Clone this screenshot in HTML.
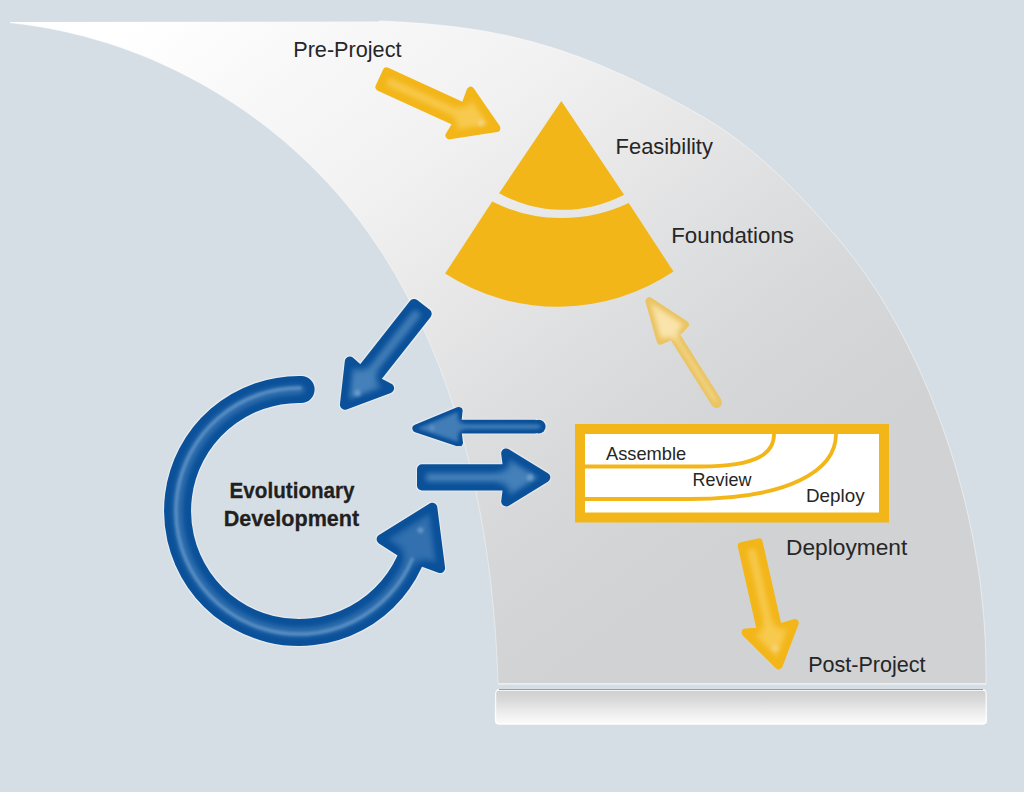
<!DOCTYPE html>
<html><head><meta charset="utf-8"><title>DSDM</title>
<style>html,body{margin:0;padding:0;background:#d6dee5;width:1024px;height:792px;overflow:hidden}</style>
</head><body>
<svg width="1024" height="792" viewBox="0 0 1024 792" style="display:block;font-family:'Liberation Sans',sans-serif">
<defs>
 <linearGradient id="mg" gradientUnits="userSpaceOnUse" x1="60" y1="80" x2="522" y2="696">
  <stop offset="0" stop-color="#ffffff"/>
  <stop offset="0.164" stop-color="#f8f8f8"/>
  <stop offset="0.345" stop-color="#f2f2f2"/>
  <stop offset="0.45" stop-color="#ececec"/>
  <stop offset="0.55" stop-color="#e6e6e7"/>
  <stop offset="0.686" stop-color="#dddedf"/>
  <stop offset="0.83" stop-color="#d6d7d8"/>
  <stop offset="1" stop-color="#d1d2d4"/>
 </linearGradient>
 <linearGradient id="bar" x1="0" y1="0" x2="0" y2="1">
  <stop offset="0" stop-color="#f4f4f4"/>
  <stop offset="0.06" stop-color="#d0d0d0"/>
  <stop offset="0.325" stop-color="#dadada"/>
  <stop offset="0.56" stop-color="#e8e8e8"/>
  <stop offset="0.79" stop-color="#f3f3f3"/>
  <stop offset="0.92" stop-color="#f8f8f8"/>
  <stop offset="1" stop-color="#fdfdfd"/>
 </linearGradient>
 <filter id="gy" x="-10%" y="-10%" width="120%" height="120%" color-interpolation-filters="sRGB">
  <feGaussianBlur in="SourceAlpha" stdDeviation="6" result="b"/>
  <feComponentTransfer in="b" result="m1"><feFuncA type="linear" slope="2.0" intercept="-1.0"/></feComponentTransfer>
  <feComponentTransfer in="m1" result="m"><feFuncA type="gamma" amplitude="1" exponent="6" offset="0"/></feComponentTransfer>
  <feFlood flood-color="#f8cf5c" flood-opacity="0.8"/>
  <feComposite in2="m" operator="in" result="hl"/>
  <feComposite in="hl" in2="SourceAlpha" operator="in" result="hl2"/>
  
  <feMerge><feMergeNode in="SourceGraphic"/><feMergeNode in="hl2"/></feMerge>
 </filter>

 <filter id="gb" x="-10%" y="-10%" width="120%" height="120%" color-interpolation-filters="sRGB">
  <feGaussianBlur in="SourceAlpha" stdDeviation="6" result="b"/>
  <feComponentTransfer in="b" result="m1"><feFuncA type="linear" slope="2.0" intercept="-1.0"/></feComponentTransfer>
  <feComponentTransfer in="m1" result="m"><feFuncA type="gamma" amplitude="1" exponent="6" offset="0"/></feComponentTransfer>
  <feFlood flood-color="#5a90c4" flood-opacity="0.75"/>
  <feComposite in2="m" operator="in" result="hl"/>
  <feComposite in="hl" in2="SourceAlpha" operator="in" result="hl2"/>
  <feMorphology in="SourceAlpha" operator="dilate" radius="0.8" result="dil"/>
  <feFlood flood-color="#ffffff" flood-opacity="0.4"/>
  <feComposite in2="dil" operator="in" result="halo"/>
  <feMerge><feMergeNode in="halo"/><feMergeNode in="SourceGraphic"/><feMergeNode in="hl2"/></feMerge>
 </filter>

 <filter id="gr" x="-10%" y="-10%" width="120%" height="120%" color-interpolation-filters="sRGB">
  <feGaussianBlur in="SourceAlpha" stdDeviation="6" result="b"/>
  <feComponentTransfer in="b" result="m1"><feFuncA type="linear" slope="2.0" intercept="-1.0"/></feComponentTransfer>
  <feComponentTransfer in="m1" result="m"><feFuncA type="gamma" amplitude="1" exponent="6" offset="0"/></feComponentTransfer>
  <feFlood flood-color="#5a90c4" flood-opacity="0.5"/>
  <feComposite in2="m" operator="in" result="hl"/>
  <feComposite in="hl" in2="SourceAlpha" operator="in" result="hl2"/>
  <feMorphology in="SourceAlpha" operator="dilate" radius="0.8" result="dil"/>
  <feFlood flood-color="#ffffff" flood-opacity="0.4"/>
  <feComposite in2="dil" operator="in" result="halo"/>
  <feMerge><feMergeNode in="halo"/><feMergeNode in="SourceGraphic"/><feMergeNode in="hl2"/></feMerge>
 </filter>

 <filter id="gb2" x="-10%" y="-10%" width="120%" height="120%" color-interpolation-filters="sRGB">
  <feGaussianBlur in="SourceAlpha" stdDeviation="3" result="b"/>
  <feComponentTransfer in="b" result="m1"><feFuncA type="linear" slope="2.0" intercept="-1.0"/></feComponentTransfer>
  <feComponentTransfer in="m1" result="m"><feFuncA type="gamma" amplitude="1" exponent="4" offset="0"/></feComponentTransfer>
  <feFlood flood-color="#5a90c4" flood-opacity="0.7"/>
  <feComposite in2="m" operator="in" result="hl"/>
  <feComposite in="hl" in2="SourceAlpha" operator="in" result="hl2"/>
  <feMorphology in="SourceAlpha" operator="dilate" radius="0.8" result="dil"/>
  <feFlood flood-color="#ffffff" flood-opacity="0.4"/>
  <feComposite in2="dil" operator="in" result="halo"/>
  <feMerge><feMergeNode in="halo"/><feMergeNode in="SourceGraphic"/><feMergeNode in="hl2"/></feMerge>
 </filter>

 <filter id="gp" x="-10%" y="-10%" width="120%" height="120%" color-interpolation-filters="sRGB">
  <feGaussianBlur in="SourceAlpha" stdDeviation="4" result="b"/>
  <feComponentTransfer in="b" result="m1"><feFuncA type="linear" slope="2.0" intercept="-1.0"/></feComponentTransfer>
  <feComponentTransfer in="m1" result="m"><feFuncA type="gamma" amplitude="1" exponent="2.5" offset="0"/></feComponentTransfer>
  <feFlood flood-color="#fae6b0" flood-opacity="0.95"/>
  <feComposite in2="m" operator="in" result="hl"/>
  <feComposite in="hl" in2="SourceAlpha" operator="in" result="hl2"/>
  
  <feMerge><feMergeNode in="SourceGraphic"/><feMergeNode in="hl2"/></feMerge>
 </filter>

 <filter id="sb2" filterUnits="userSpaceOnUse" x="0" y="0" width="1024" height="792"><feGaussianBlur stdDeviation="1.2"/></filter>
 <filter id="sb" filterUnits="userSpaceOnUse" x="0" y="0" width="1024" height="792"><feGaussianBlur stdDeviation="1.6"/></filter>
</defs>
<rect width="1024" height="792" fill="#d6dee5"/>
<path d="M10,22 L378.9,21.6 L380.0,20.9 L386.3,21.2 L392.6,21.5 L398.9,21.9 L405.2,22.3 L411.4,22.7 L417.7,23.1 L424.0,23.6 L430.3,24.2 L436.6,24.8 L442.9,25.4 L449.1,26.1 L455.4,26.8 L461.6,27.7 L467.9,28.5 L474.1,29.5 L480.3,30.5 L486.6,31.5 L492.7,32.7 L498.9,33.9 L505.1,35.1 L511.2,36.5 L517.4,38.0 L523.5,39.5 L529.6,41.1 L535.6,42.7 L541.7,44.5 L547.7,46.3 L553.7,48.1 L559.7,50.1 L565.7,52.1 L571.6,54.2 L577.6,56.3 L583.5,58.5 L589.4,60.8 L595.2,63.1 L601.1,65.5 L606.9,68.0 L612.7,70.5 L618.4,73.0 L624.2,75.6 L629.9,78.3 L635.6,81.0 L641.2,83.8 L646.8,86.6 L652.5,89.4 L658.1,92.3 L663.6,95.2 L669.2,98.2 L674.8,101.2 L680.3,104.1 L685.9,107.1 L691.4,110.2 L696.9,113.3 L702.4,116.4 L707.8,119.7 L713.1,123.0 L718.4,126.4 L723.7,129.9 L728.8,133.5 L733.9,137.1 L739.0,140.9 L744.0,144.8 L748.9,148.7 L753.8,152.7 L758.6,156.8 L763.4,160.9 L768.1,165.1 L772.7,169.3 L777.3,173.7 L781.9,178.0 L786.4,182.4 L790.8,186.9 L795.2,191.4 L799.6,195.9 L804.0,200.5 L808.3,205.1 L812.5,209.7 L816.8,214.4 L821.0,219.1 L825.2,223.8 L829.3,228.5 L833.4,233.3 L837.5,238.0 L841.5,242.9 L845.5,247.7 L849.4,252.7 L853.2,257.6 L857.0,262.6 L860.7,267.7 L864.4,272.8 L868.0,278.0 L871.5,283.2 L875.0,288.4 L878.4,293.7 L881.7,299.1 L885.0,304.4 L888.2,309.8 L891.4,315.3 L894.5,320.8 L897.6,326.3 L900.6,331.9 L903.5,337.4 L906.4,343.1 L909.3,348.7 L912.1,354.4 L914.8,360.1 L917.5,365.8 L920.1,371.5 L922.6,377.3 L925.2,383.1 L927.6,388.9 L930.1,394.7 L932.4,400.6 L934.7,406.4 L937.0,412.3 L939.2,418.2 L941.4,424.1 L943.5,430.0 L945.6,436.0 L947.6,441.9 L949.6,447.9 L951.5,453.9 L953.4,459.9 L955.2,465.9 L957.0,472.0 L958.7,478.0 L960.3,484.1 L962.0,490.2 L963.5,496.3 L965.1,502.4 L966.5,508.5 L968.0,514.7 L969.3,520.8 L970.6,527.0 L971.9,533.1 L973.1,539.3 L974.3,545.5 L975.4,551.7 L976.4,558.0 L977.4,564.2 L978.4,570.4 L979.3,576.7 L980.1,582.9 L980.9,589.2 L981.6,595.4 L982.3,601.7 L982.9,608.0 L983.5,614.2 L984.0,620.5 L984.4,626.8 L984.8,633.1 L985.2,639.4 L985.4,645.7 L985.7,652.0 L985.8,658.3 L985.9,664.6 L986.0,670.9 L986.0,677.2 L985.9,683.5 L986,683.5 L498,683.5 L498.1,683.1 L497.9,676.7 L497.6,670.3 L497.3,663.9 L497.0,657.5 L496.6,651.1 L496.2,644.6 L495.8,638.2 L495.4,631.7 L494.9,625.3 L494.3,618.8 L493.8,612.4 L493.2,605.9 L492.5,599.5 L491.8,593.0 L491.1,586.5 L490.4,580.1 L489.6,573.6 L488.8,567.2 L487.9,560.7 L487.0,554.3 L486.0,547.8 L485.0,541.4 L484.0,534.9 L482.9,528.5 L481.8,522.1 L480.7,515.6 L479.5,509.2 L478.2,502.8 L476.9,496.4 L475.6,490.0 L474.2,483.7 L472.8,477.3 L471.3,470.9 L469.8,464.6 L468.3,458.3 L466.7,451.9 L465.0,445.6 L463.3,439.4 L461.5,433.1 L459.7,426.8 L457.9,420.6 L456.0,414.4 L454.0,408.2 L452.0,402.0 L449.9,395.8 L447.8,389.7 L445.7,383.6 L443.4,377.5 L441.2,371.4 L438.8,365.3 L436.5,359.3 L434.0,353.3 L431.5,347.3 L429.0,341.4 L426.4,335.4 L423.7,329.5 L421.0,323.7 L418.2,317.8 L415.4,312.0 L412.5,306.2 L409.5,300.4 L406.5,294.7 L403.4,289.0 L400.3,283.4 L397.1,277.7 L393.8,272.1 L390.5,266.6 L387.1,261.1 L383.7,255.6 L380.1,250.1 L376.6,244.7 L372.9,239.4 L369.2,234.1 L365.4,228.8 L361.6,223.6 L357.7,218.4 L353.7,213.3 L349.6,208.2 L345.5,203.2 L341.3,198.3 L337.1,193.3 L332.7,188.5 L328.4,183.7 L323.9,178.9 L319.4,174.2 L314.8,169.6 L310.2,165.0 L305.5,160.5 L300.8,156.1 L296.0,151.7 L291.1,147.3 L286.2,143.0 L281.2,138.8 L276.2,134.7 L271.1,130.6 L266.0,126.6 L260.8,122.6 L255.6,118.7 L250.3,114.9 L245.0,111.1 L239.6,107.4 L234.2,103.8 L228.7,100.3 L223.2,96.8 L217.7,93.4 L212.1,90.0 L206.5,86.7 L200.8,83.5 L195.1,80.4 L189.4,77.4 L183.6,74.4 L177.8,71.5 L172.0,68.7 L166.1,65.9 L160.2,63.2 L154.3,60.6 L148.3,58.1 L142.3,55.6 L136.2,53.3 L130.2,51.0 L124.1,48.7 L117.9,46.6 L111.8,44.5 L105.6,42.6 L99.4,40.7 L93.1,38.9 L86.9,37.1 L80.6,35.5 L74.3,33.9 L68.0,32.4 L61.6,31.0 L55.2,29.7 L48.9,28.4 L42.4,27.3 L36.0,26.2 L29.6,25.2 L23.1,24.3 L16.6,23.5 L10.1,22.8 Z" fill="url(#mg)"/>
<path d="M378.9,21.6 L380.0,20.9 L386.3,21.2 L392.6,21.5 L398.9,21.9 L405.2,22.3 L411.4,22.7 L417.7,23.1 L424.0,23.6 L430.3,24.2 L436.6,24.8 L442.9,25.4 L449.1,26.1 L455.4,26.8 L461.6,27.7 L467.9,28.5 L474.1,29.5 L480.3,30.5 L486.6,31.5 L492.7,32.7 L498.9,33.9 L505.1,35.1 L511.2,36.5 L517.4,38.0 L523.5,39.5 L529.6,41.1 L535.6,42.7 L541.7,44.5 L547.7,46.3 L553.7,48.1 L559.7,50.1 L565.7,52.1 L571.6,54.2 L577.6,56.3 L583.5,58.5 L589.4,60.8 L595.2,63.1 L601.1,65.5 L606.9,68.0 L612.7,70.5 L618.4,73.0 L624.2,75.6 L629.9,78.3 L635.6,81.0 L641.2,83.8 L646.8,86.6 L652.5,89.4 L658.1,92.3 L663.6,95.2 L669.2,98.2 L674.8,101.2 L680.3,104.1 L685.9,107.1 L691.4,110.2 L696.9,113.3 L702.4,116.4 L707.8,119.7 L713.1,123.0 L718.4,126.4 L723.7,129.9 L728.8,133.5 L733.9,137.1 L739.0,140.9 L744.0,144.8 L748.9,148.7 L753.8,152.7 L758.6,156.8 L763.4,160.9 L768.1,165.1 L772.7,169.3 L777.3,173.7 L781.9,178.0 L786.4,182.4 L790.8,186.9 L795.2,191.4 L799.6,195.9 L804.0,200.5 L808.3,205.1 L812.5,209.7 L816.8,214.4 L821.0,219.1 L825.2,223.8 L829.3,228.5 L833.4,233.3 L837.5,238.0 L841.5,242.9 L845.5,247.7 L849.4,252.7 L853.2,257.6 L857.0,262.6 L860.7,267.7 L864.4,272.8 L868.0,278.0 L871.5,283.2 L875.0,288.4 L878.4,293.7 L881.7,299.1 L885.0,304.4 L888.2,309.8 L891.4,315.3 L894.5,320.8 L897.6,326.3 L900.6,331.9 L903.5,337.4 L906.4,343.1 L909.3,348.7 L912.1,354.4 L914.8,360.1 L917.5,365.8 L920.1,371.5 L922.6,377.3 L925.2,383.1 L927.6,388.9 L930.1,394.7 L932.4,400.6 L934.7,406.4 L937.0,412.3 L939.2,418.2 L941.4,424.1 L943.5,430.0 L945.6,436.0 L947.6,441.9 L949.6,447.9 L951.5,453.9 L953.4,459.9 L955.2,465.9 L957.0,472.0 L958.7,478.0 L960.3,484.1 L962.0,490.2 L963.5,496.3 L965.1,502.4 L966.5,508.5 L968.0,514.7 L969.3,520.8 L970.6,527.0 L971.9,533.1 L973.1,539.3 L974.3,545.5 L975.4,551.7 L976.4,558.0 L977.4,564.2 L978.4,570.4 L979.3,576.7 L980.1,582.9 L980.9,589.2 L981.6,595.4 L982.3,601.7 L982.9,608.0 L983.5,614.2 L984.0,620.5 L984.4,626.8 L984.8,633.1 L985.2,639.4 L985.4,645.7 L985.7,652.0 L985.8,658.3 L985.9,664.6 L986.0,670.9 L986.0,677.2 L985.9,683.5" fill="none" stroke="#ffffff" stroke-width="1" opacity="0.45"/>
<path d="M10.1,22.8 L16.6,23.5 L23.1,24.3 L29.6,25.2 L36.0,26.2 L42.4,27.3 L48.9,28.4 L55.2,29.7 L61.6,31.0 L68.0,32.4 L74.3,33.9 L80.6,35.5 L86.9,37.1 L93.1,38.9 L99.4,40.7 L105.6,42.6 L111.8,44.5 L117.9,46.6 L124.1,48.7 L130.2,51.0 L136.2,53.3 L142.3,55.6 L148.3,58.1 L154.3,60.6 L160.2,63.2 L166.1,65.9 L172.0,68.7 L177.8,71.5 L183.6,74.4 L189.4,77.4 L195.1,80.4 L200.8,83.5 L206.5,86.7 L212.1,90.0 L217.7,93.4 L223.2,96.8 L228.7,100.3 L234.2,103.8 L239.6,107.4 L245.0,111.1 L250.3,114.9 L255.6,118.7 L260.8,122.6 L266.0,126.6 L271.1,130.6 L276.2,134.7 L281.2,138.8 L286.2,143.0 L291.1,147.3 L296.0,151.7 L300.8,156.1 L305.5,160.5 L310.2,165.0 L314.8,169.6 L319.4,174.2 L323.9,178.9 L328.4,183.7 L332.7,188.5 L337.1,193.3 L341.3,198.3 L345.5,203.2 L349.6,208.2 L353.7,213.3 L357.7,218.4 L361.6,223.6 L365.4,228.8 L369.2,234.1 L372.9,239.4 L376.6,244.7 L380.1,250.1 L383.7,255.6 L387.1,261.1 L390.5,266.6 L393.8,272.1 L397.1,277.7 L400.3,283.4 L403.4,289.0 L406.5,294.7 L409.5,300.4 L412.5,306.2 L415.4,312.0 L418.2,317.8 L421.0,323.7 L423.7,329.5 L426.4,335.4 L429.0,341.4 L431.5,347.3 L434.0,353.3 L436.5,359.3 L438.8,365.3 L441.2,371.4 L443.4,377.5 L445.7,383.6 L447.8,389.7 L449.9,395.8 L452.0,402.0 L454.0,408.2 L456.0,414.4 L457.9,420.6 L459.7,426.8 L461.5,433.1 L463.3,439.4 L465.0,445.6 L466.7,451.9 L468.3,458.3 L469.8,464.6 L471.3,470.9 L472.8,477.3 L474.2,483.7 L475.6,490.0 L476.9,496.4 L478.2,502.8 L479.5,509.2 L480.7,515.6 L481.8,522.1 L482.9,528.5 L484.0,534.9 L485.0,541.4 L486.0,547.8 L487.0,554.3 L487.9,560.7 L488.8,567.2 L489.6,573.6 L490.4,580.1 L491.1,586.5 L491.8,593.0 L492.5,599.5 L493.2,605.9 L493.8,612.4 L494.3,618.8 L494.9,625.3 L495.4,631.7 L495.8,638.2 L496.2,644.6 L496.6,651.1 L497.0,657.5 L497.3,663.9 L497.6,670.3 L497.9,676.7 L498.1,683.1" fill="none" stroke="#ffffff" stroke-width="1" opacity="0.4"/>
<line x1="498" y1="683.9" x2="986" y2="683.9" stroke="#ffffff" stroke-width="0.9"/>
<rect x="494.8" y="689.2" width="492.2" height="35.4" rx="4" fill="url(#bar)"/>
<rect x="495.6" y="690" width="490.6" height="33.8" rx="3.5" fill="none" stroke="#ffffff" stroke-width="1.3" opacity="0.85"/>
<line x1="499" y1="689.5" x2="983" y2="689.5" stroke="#86a4b8" stroke-width="1"/>
<path d="M561.3,101 L499.1,193.3 A132,132 0 0 0 624.1,194.8 Z" fill="#f3b619"/>
<path d="M492.2,201.6 A156,156 0 0 0 628.7,203.1 L673.5,271.6 A208,208 0 0 1 445.1,273.6 Z" fill="#f3b619"/>
<g filter="url(#gy)"><path d="M379.5,87.0 L457.4,122.6 L449.5,135.3 L496.3,128.1 L470.6,90.7 L464.6,107.2 L386.6,71.5 Z" fill="#f3b619" stroke="#f3b619" stroke-width="8" stroke-linejoin="round" /></g>
<g filter="url(#gy)"><path d="M741.8,546.1 L761.1,631.4 L745.7,632.6 L778.7,665.3 L794.7,623.1 L778.1,628.0 L758.7,542.3 Z" fill="#f3b619" stroke="#f3b619" stroke-width="8" stroke-linejoin="round" /></g>
<g filter="url(#gp)"><path d="M649.5,301.3 L660.6,340.6 L666.9,337.9 L679.5,330.1 L684.9,324.5 Z" fill="#ebc564" stroke="#ebc564" stroke-width="8" stroke-linejoin="round" />
 <line x1="674" y1="335" x2="716.5" y2="402.5" stroke="#ebc564" stroke-width="11" stroke-linecap="round"/></g>
<circle cx="481" cy="123" r="3.2" fill="#f3d27a" opacity="1" filter="url(#sb)"/><circle cx="775" cy="648" r="3.2" fill="#f3d27a" opacity="1" filter="url(#sb)"/>
<g filter="url(#gb)"><path d="M414.1,303.9 L361.0,371.4 L349.8,361.5 L344.9,404.7 L389.1,388.2 L374.2,380.5 L426.7,313.8 Z" fill="#0a519a" stroke="#0a519a" stroke-width="10" stroke-linejoin="round" /></g>
<g filter="url(#gb2)"><path d="M534.8,423.8 L457.2,423.8 L458.6,410.9 L416.4,428.4 L459.0,442.7 L457.3,429.4 L534.8,429.4 Z" fill="#0a519a" stroke="#0a519a" stroke-width="8" stroke-linejoin="round" /><circle cx="538.8" cy="426.6" r="6.8" fill="#0a519a"/></g>
<g filter="url(#gb)"><path d="M422.0,485.5 L508.2,485.5 L506.2,501.4 L545.3,477.4 L506.2,453.4 L508.2,469.2 L422.0,469.2 Z" fill="#0a519a" stroke="#0a519a" stroke-width="10" stroke-linejoin="round" /></g>
<g filter="url(#gr)"><path d="M301.1,389.5 A121.5,121.5 0 1 0 413.2,552.6" fill="none" stroke="#0a519a" stroke-width="27" stroke-linecap="round"/>
<path d="M432.3,507.7 L381.6,539.2 L398.7,550.2 L423.2,561.8 L440.1,568.1 Z" fill="#0a519a" stroke="#0a519a" stroke-width="10" stroke-linejoin="round" /></g>
<path d="M300.1,388.0 A123,123 0 1 0 412.2,559.1" fill="none" stroke="#5f93c6" stroke-width="3.5" stroke-linecap="round" opacity="0.85" filter="url(#sb2)"/><circle cx="357.5" cy="393" r="3.2" fill="#6f9fcc" opacity="0.9" filter="url(#sb)"/><circle cx="530" cy="477.4" r="3.5" fill="#6f9fcc" opacity="0.9" filter="url(#sb)"/><circle cx="432" cy="428" r="3" fill="#5d92c6" opacity="0.8" filter="url(#sb)"/><circle cx="420.5" cy="530.3" r="3" fill="#6f9fcc" opacity="0.8" filter="url(#sb)"/>
<rect x="580" y="429" width="304" height="88.5" fill="#ffffff" stroke="#f3b619" stroke-width="10"/>
<path d="M585,466.5 L700,466.5 C760,466.5 774,452 774,434" fill="none" stroke="#f3b619" stroke-width="3.8"/>
<path d="M585,499 L690,499 C790,499 836,470 836,434" fill="none" stroke="#f3b619" stroke-width="3.8"/>
<text x="293.2" y="56.7" font-size="21.7" font-weight="400" fill="#262626" textLength="108.3" lengthAdjust="spacingAndGlyphs">Pre-Project</text><text x="615.6" y="153.6" font-size="21.7" font-weight="400" fill="#262626" textLength="97.3" lengthAdjust="spacingAndGlyphs">Feasibility</text><text x="671.2" y="242.8" font-size="21.7" font-weight="400" fill="#262626" textLength="122.8" lengthAdjust="spacingAndGlyphs">Foundations</text><text x="786.0" y="554.7" font-size="21.7" font-weight="400" fill="#262626" textLength="121.3" lengthAdjust="spacingAndGlyphs">Deployment</text><text x="808.2" y="671.8" font-size="21.7" font-weight="400" fill="#262626" textLength="117.4" lengthAdjust="spacingAndGlyphs">Post-Project</text><text x="606.0" y="460.3" font-size="18.2" font-weight="400" fill="#262626" textLength="80.2" lengthAdjust="spacingAndGlyphs">Assemble</text><text x="692.6" y="485.8" font-size="18.2" font-weight="400" fill="#262626" textLength="58.8" lengthAdjust="spacingAndGlyphs">Review</text><text x="806.0" y="502" font-size="18.2" font-weight="400" fill="#262626" textLength="58.6" lengthAdjust="spacingAndGlyphs">Deploy</text><text x="229.6" y="498.1" font-size="22.8" font-weight="700" fill="#231f20" stroke="#231f20" stroke-width="0.3" textLength="125.0" lengthAdjust="spacingAndGlyphs">Evolutionary</text><text x="223.8" y="525.8" font-size="22.8" font-weight="700" fill="#231f20" stroke="#231f20" stroke-width="0.3" textLength="135.4" lengthAdjust="spacingAndGlyphs">Development</text>
</svg>
</body></html>
